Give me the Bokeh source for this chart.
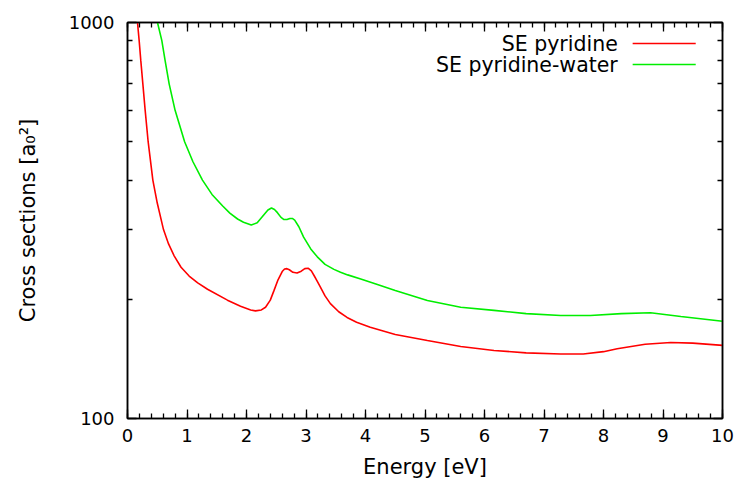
from bokeh.plotting import figure
from bokeh.models import (FixedTicker, LinearAxis, LogAxis, Label, Arrow,
                          NumeralTickFormatter, CustomLabelingPolicy,
                          CustomJSTickFormatter)
from bokeh.embed import file_html
from bokeh.resources import INLINE

# ---- data ----
energy_pyridine = [0.16, 0.168, 0.196, 0.224, 0.258, 0.297, 0.347, 0.426, 0.50, 0.605, 0.69,
                   0.784, 0.90, 1.036, 1.18, 1.345, 1.68, 1.90, 2.07, 2.15, 2.25, 2.32, 2.40,
                   2.46, 2.53, 2.60, 2.64, 2.68, 2.72, 2.78, 2.85, 2.92, 2.98, 3.04, 3.09,
                   3.14, 3.19, 3.24, 3.32, 3.41, 3.55, 3.69, 3.85, 4.08, 4.50, 5.04, 5.60,
                   6.16, 6.70, 7.28, 7.66, 8.00, 8.23, 8.70, 9.13, 9.50, 10.0]
cs_pyridine = [1040, 1000, 900, 800, 700, 600, 500, 400, 350, 300, 276,
               257.5, 241, 229, 220, 212, 199, 192, 188, 187, 188, 191, 199,
               210, 224, 235, 238.5, 239, 237.5, 234, 233, 235.5, 239, 239.5, 236,
               229, 222, 215, 204, 195, 186, 180, 175, 170, 163, 157.4, 152,
               148.5, 146.5, 145.5, 145.5, 147.5, 150, 154, 155.6, 155, 153]

energy_water = [0.48, 0.504, 0.577, 0.633, 0.70, 0.80, 0.96, 1.10, 1.26, 1.42, 1.60, 1.72,
                1.85, 1.95, 2.08, 2.18, 2.30, 2.36, 2.42, 2.47, 2.52, 2.58, 2.63, 2.68,
                2.73, 2.77, 2.81, 2.88, 2.96, 3.08, 3.19, 3.32, 3.47, 3.58, 3.70, 3.92,
                4.20, 4.50, 5.04, 5.60, 6.16, 6.70, 7.28, 7.78, 8.30, 8.79, 9.30, 10.0]
cs_water = [1040, 1000, 900, 800, 700, 600, 500, 445, 400, 368, 344, 330,
            319, 313, 308, 312, 328, 336, 340, 337, 331, 322, 318, 318,
            320, 320, 317, 305, 287, 268, 256, 245, 238, 234, 230.5, 225,
            218, 210.5, 198.5, 191, 187.5, 184, 182, 182, 184, 185, 181, 176]

series_names = ["SE pyridine", "SE pyridine-water"]
series_colors = ["#ff0000", "#00ee00"]

x_major_ticks = [0, 1, 2, 3, 4, 5, 6, 7, 8, 9, 10]
x_minor_ticks = [round(i * 0.2, 1) for i in range(51)]
y_major_ticks = [100, 1000]
y_minor_ticks = [200, 300, 400, 500, 600, 700, 800, 900]

FONT = "DejaVu Sans"

p = figure(width=739, height=484, x_range=(0, 10), y_range=(100, 1000),
           y_axis_type="log", output_backend="svg", toolbar_location=None,
           min_border_left=127, min_border_right=17, min_border_top=22,
           min_border_bottom=66)
p.grid.visible = False
p.outline_line_color = "black"
p.outline_line_width = 1.5
p.background_fill_color = "white"
p.border_fill_color = "white"

p.line(energy_pyridine, cs_pyridine, line_color=series_colors[0], line_width=1.6)
p.line(energy_water, cs_water, line_color=series_colors[1], line_width=1.6)

xt = FixedTicker(ticks=x_major_ticks, minor_ticks=x_minor_ticks)
yt = FixedTicker(ticks=y_major_ticks, minor_ticks=y_minor_ticks)


def style(ax, labels=True):
    ax.axis_line_color = "black"
    ax.axis_line_width = 1.5
    ax.major_tick_in = 9
    ax.major_tick_out = 0
    ax.minor_tick_in = 5
    ax.minor_tick_out = 0
    ax.major_tick_line_width = 1.3
    ax.minor_tick_line_width = 1.3
    ax.major_label_text_font = FONT
    ax.major_label_text_color = "black"
    ax.major_label_text_font_size = "18px"
    if not labels:
        ax.formatter = CustomJSTickFormatter(code="return ''")
        ax.major_label_policy = CustomLabelingPolicy(code="""
            for (const i of Array.from(indices)) { indices.unset(i) }
            return indices
        """)
        ax.major_label_standoff = 0


xa = p.xaxis[0]
xa.ticker = xt
style(xa)
xa.major_label_standoff = 10
xa.axis_label = "Energy [eV]"
xa.axis_label_text_font = FONT
xa.axis_label_text_font_size = "21px"
xa.axis_label_text_font_style = "normal"
xa.axis_label_text_color = "black"
xa.axis_label_standoff = 10

ya = p.yaxis[0]
ya.ticker = yt
ya.formatter = NumeralTickFormatter(format="0")
style(ya)
ya.major_label_standoff = 13
ya.axis_label = "Cross sections [a\u2080\u00b2]"
ya.axis_label_text_font = FONT
ya.axis_label_text_font_size = "21px"
ya.axis_label_text_font_style = "normal"
ya.axis_label_text_color = "black"
ya.axis_label_standoff = 26

top = LinearAxis(ticker=xt)
style(top, labels=False)
p.add_layout(top, "above")
right = LogAxis(ticker=yt)
style(right, labels=False)
p.add_layout(right, "right")

# legend (text right-aligned, sample line to its right)
legend_y = [885, 783]
for name, color, yy in zip(series_names, series_colors, legend_y):
    p.add_layout(Label(x=8.24, y=yy, text=name, text_align="right",
                       text_baseline="middle", text_font=FONT,
                       text_font_size="20.5px", text_color="black"))
    p.add_layout(Arrow(end=None, x_start=8.49, y_start=yy, x_end=9.55, y_end=yy,
                       line_color=color, line_width=1.6))

open("out.html", "w").write(file_html(p, INLINE))
